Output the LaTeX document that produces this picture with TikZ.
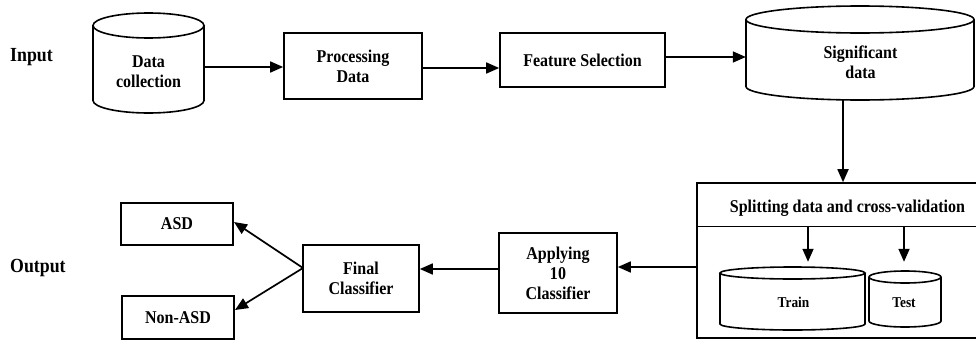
\documentclass[tikz,border=0pt]{standalone}
\usepackage{fontspec}
\setmainfont{Liberation Serif}
% slightly condensed bold serif for all labels
\newfontfamily\condserif[FakeStretch=0.89]{Liberation Serif}
\usetikzlibrary{arrows.meta}

\tikzset{
  txt/.style={font=\condserif\bfseries\fontsize{18}{20}\selectfont, align=center, inner sep=0pt},
  smalltxt/.style={font=\condserif\bfseries\fontsize{15}{17}\selectfont, align=center, inner sep=0pt},
  lbl/.style={font=\condserif\bfseries\fontsize{20}{22}\selectfont, anchor=west, inner sep=0pt},
  box/.style={draw, line width=1.6pt, rectangle, inner sep=0pt, align=center,
              font=\condserif\bfseries\fontsize{18}{20}\selectfont},
  cyl/.style={draw, line width=1.6pt},
  slot/.style={inner sep=0pt, rectangle},
  arr/.style={line width=1.7pt, -{Triangle[length=13pt,width=11pt]}},
}

\begin{document}
\begin{tikzpicture}[x=1pt, y=-1pt]
  \useasboundingbox (0,0) rectangle (976,340);

  % side labels
  \node[lbl] (inlbl) at (10,57) {Input};
  \node[lbl] (outlbl) at (10,268) {Output};

  % --- top row ---------------------------------------------------------
  % data collection store
  \draw[cyl] (148.5,25.5) ellipse[x radius=55.5pt, y radius=12.5pt];
  \draw[cyl] (93,25.5) -- (93,100.5)
       arc[start angle=180, end angle=360, x radius=55.5pt, y radius=12.5pt]
       -- (204,25.5);
  \node[slot, minimum width=111pt, minimum height=100pt] (dc) at (148.5,63) {};
  \node[txt] at (148.5,71.5) {Data\\collection};

  \node[box, minimum width=138pt, minimum height=66pt] (proc) at (353,66) {Processing\\Data};
  \node[box, minimum width=165pt, minimum height=54pt] (feat) at (582.5,60) {Feature Selection};

  % significant data store
  \draw[cyl] (860,19.5) ellipse[x radius=114pt, y radius=13.5pt];
  \draw[cyl] (746,19.5) -- (746,86.5)
       arc[start angle=180, end angle=360, x radius=114pt, y radius=13.5pt]
       -- (974,19.5);
  \node[slot, minimum width=228pt, minimum height=94pt] (sig) at (860,53) {};
  \node[txt] at (860.5,62) {Significant\\data};

  % --- splitting block ---------------------------------------------------
  \node[draw, line width=1.6pt, slot, minimum width=288pt, minimum height=155pt] (split) at (841,260.5) {};
  \node[txt] (splittitle) at (847.5,208) {Splitting data and cross-validation};
  \draw[line width=1pt] (split.west |- 0,226) -- (split.east |- 0,226);

  % train store
  \draw[cyl] (792.5,273) ellipse[x radius=72.5pt, y radius=6pt];
  \draw[cyl] (720,273) -- (720,324)
       arc[start angle=180, end angle=360, x radius=72.5pt, y radius=6pt]
       -- (865,273);
  \node[slot, minimum width=145pt, minimum height=63pt] (train) at (792.5,298.5) {};
  \node[smalltxt] at (793.5,302) {Train};

  % test store
  \draw[cyl] (905,277) ellipse[x radius=36pt, y radius=6pt];
  \draw[cyl] (869,277) -- (869,321)
       arc[start angle=180, end angle=360, x radius=36pt, y radius=6pt]
       -- (941,277);
  \node[slot, minimum width=72pt, minimum height=56pt] (test) at (905,299) {};
  \node[smalltxt] at (904,303) {Test};

  % --- bottom row --------------------------------------------------------
  \node[box, minimum width=118pt, minimum height=80pt] (apply) at (558,273) {Applying\\10\\Classifier};
  \node[box, minimum width=116pt, minimum height=67pt] (final) at (361,278.5) {Final\\Classifier};
  \node[box, minimum width=112pt, minimum height=42pt] (asd) at (177,224) {ASD};
  \node[box, minimum width=112pt, minimum height=43pt] (nonasd) at (178,317.5) {Non-ASD};

  % --- connectors --------------------------------------------------------
  \coordinate (dcout) at (204,67);
  \draw[arr] (dcout) -- (dcout -| proc.west);
  \coordinate (procout) at (422,68);
  \draw[arr] (procout) -- (procout -| feat.west);
  \coordinate (featout) at (665,57);
  \draw[arr] (featout) -- (featout -| sig.west);
  \coordinate (sigout) at (843,100);
  \draw[arr] (sigout) -- (sigout |- split.north);

  \coordinate (tr) at (808,226);
  \coordinate (te) at (904,226);
  \draw[arr] (tr) -- ([yshift=5pt]tr |- train.north);
  \draw[arr] (te) -- ([yshift=9pt]te |- test.north);

  \coordinate (splitout) at (697,267);
  \draw[arr] (splitout) -- (splitout -| apply.east);
  \coordinate (applyout) at (499,269);
  \draw[arr] (applyout) -- (applyout -| final.east);

  \coordinate (fc) at (303,268);
  \coordinate (asdin) at (234,222);
  \coordinate (nonin) at (235,310);
  \draw[arr] (fc) -- (asdin);
  \draw[arr] (fc) -- (nonin);
\end{tikzpicture}
\end{document}
